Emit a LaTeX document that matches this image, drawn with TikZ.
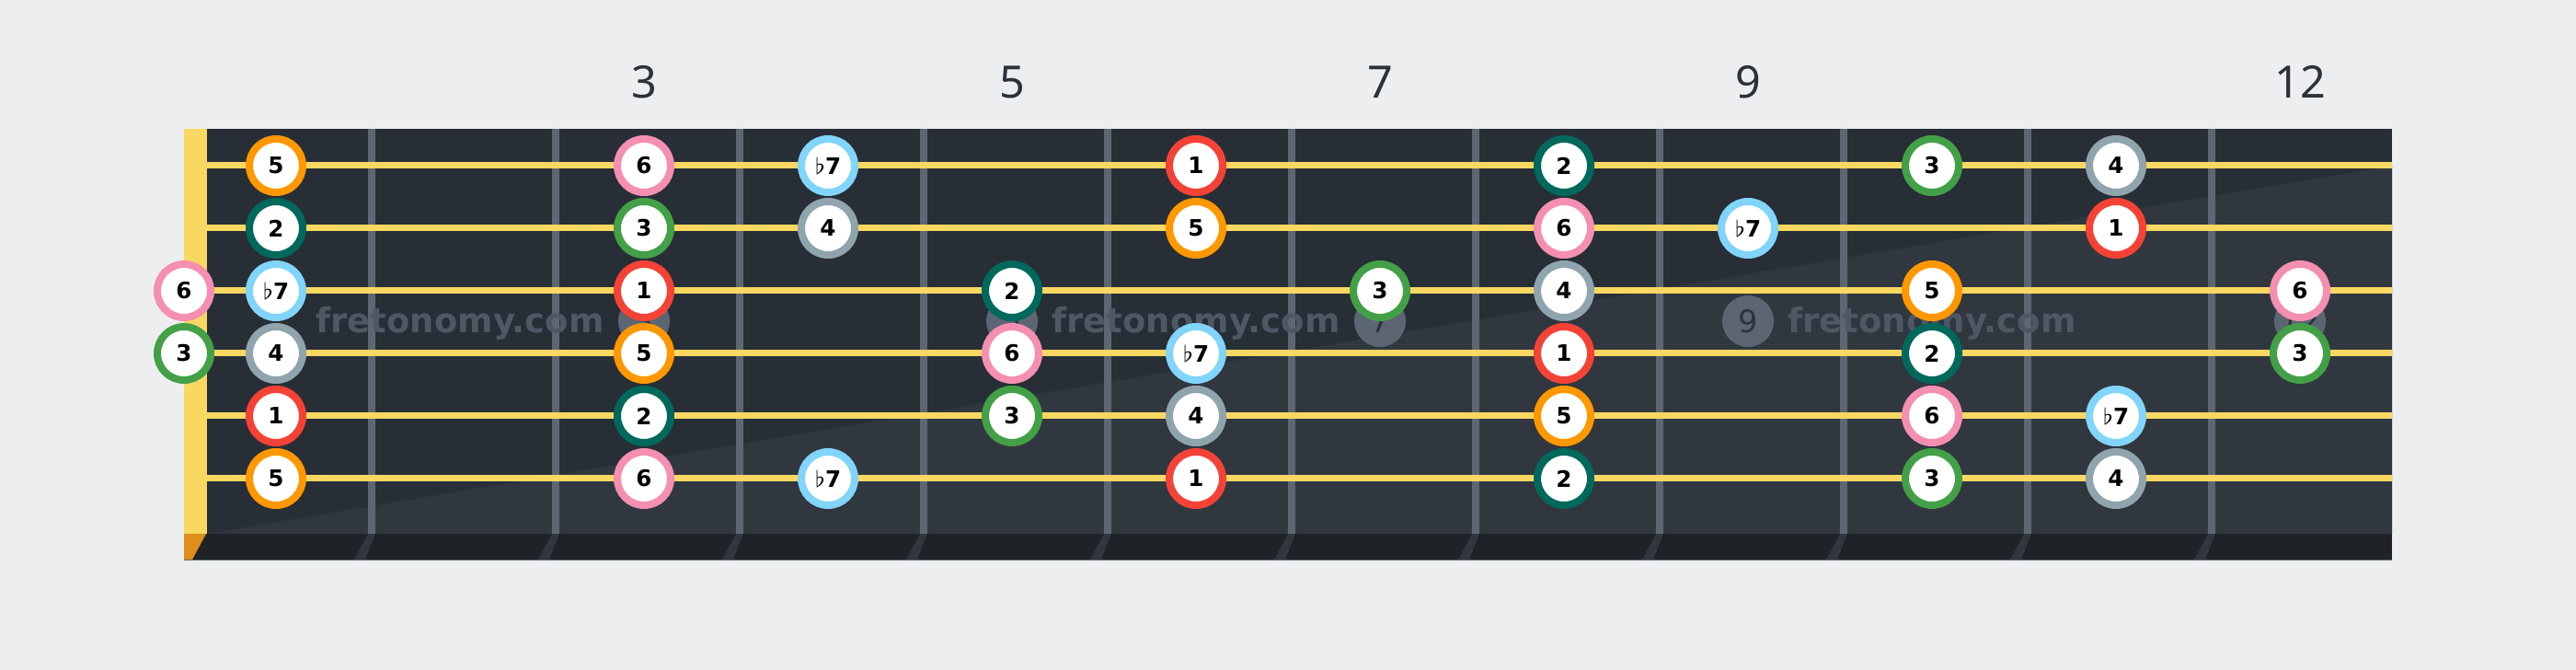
\documentclass[tikz,border=0pt]{standalone}
\usepackage{fontspec}
\setmainfont{DejaVu Sans}
\newfontfamily\fretfont{Noto Sans}
\usepackage{tikz}

\definecolor{bgcol}{HTML}{EDEEF0}
\definecolor{boardtop}{HTML}{282E36}
\definecolor{boardlow}{HTML}{31373F}
\definecolor{stripcol}{HTML}{1F2328}
\definecolor{fretcol}{HTML}{5C6773}
\definecolor{fretshade}{HTML}{2F363D}
\definecolor{nutcol}{HTML}{F9D862}
\definecolor{nutfoot}{HTML}{DD8E1B}
\definecolor{inlaycol}{HTML}{5B6672}
\definecolor{inlaytext}{HTML}{2C333A}
\definecolor{markcol}{HTML}{4E5864}
\definecolor{numcol}{HTML}{2B323A}

\definecolor{deg1}{HTML}{F44336}
\definecolor{deg2}{HTML}{00695C}
\definecolor{deg3}{HTML}{43A047}
\definecolor{deg4}{HTML}{90A4AE}
\definecolor{deg5}{HTML}{FF9800}
\definecolor{deg6}{HTML}{F48FB1}
\definecolor{deg7}{HTML}{81D4FA}

\begin{document}
\begin{tikzpicture}[x=1cm, y=-1cm,
    tone/.style={circle, draw=#1, fill=white, line width=0.08cm,
        minimum size=0.58cm, inner sep=0pt, text=black,
        font=\fontsize{7}{8}\selectfont\bfseries},
    inlay/.style={circle, fill=inlaycol, minimum size=0.56cm, inner sep=0pt,
        text=inlaytext, font=\fontsize{9.6}{10}\selectfont},
    fretnum/.style={text=numcol, font=\fretfont\fontsize{13.8}{14}\selectfont},
    watermark/.style={anchor=base west, inner sep=0pt, text=markcol,
        font=\fontsize{10.5}{11}\selectfont\bfseries},
    guitarstring/.style={draw=nutcol, line width=0.07cm}
]
            \fill[bgcol] (0, 0) rectangle (28, 7.28);

            \begin{scope}
                \fill[boardtop] (2.25, 1.40) rectangle (26, 5.80);
                \fill[boardlow] (2.25, 5.80) -- (26, 1.80) -- (26, 5.80) -- cycle;
                \fill[stripcol] (2, 5.80) rectangle (26, 6.08);
                \fill[fretcol] (2, 6.075) rectangle (26, 6.09);
                \fill[nutcol] (2, 1.40) rectangle (2.25, 5.80);
                \fill[nutfoot] (2, 5.80) -- (2.24, 5.80) -- (2.09, 6.08) -- (2, 6.08) -- cycle;

                \foreach \k in {1, ..., 11} {
                    \fill[fretcol] ({2 + 2*\k}, 1.40) rectangle ({2.08 + 2*\k}, 5.80);
                    \fill[fretshade] ({2 + 2*\k}, 5.80) -- ({2.08 + 2*\k}, 5.80)
                        -- ({1.97 + 2*\k}, 6.08) -- ({1.85 + 2*\k}, 6.08) -- cycle;
                }
            \end{scope}

            \foreach \f in {3, 5, 7, 9, 12} {
                \node[inlay] (dot\f) at ({1 + 2*\f}, 3.49) {\f};
                \node[fretnum] (num\f) at ({1 + 2*\f}, 0.89) {\f};
            }

            \foreach \i/\x in {1/3.43, 2/11.43, 3/19.43} {
                \node[watermark] (mark\i) at (\x, 3.62) {fretonomy.com};
            }

            \foreach \s in {1, ..., 6} {
                \draw[guitarstring] (2.25, {1.12 + 0.68*\s}) -- (26, {1.12 + 0.68*\s});
            }

            \foreach \s/\f/\d in {
                1/1/5, 1/3/6, 1/4/7, 1/6/1, 1/8/2, 1/10/3, 1/11/4,
                2/1/2, 2/3/3, 2/4/4, 2/6/5, 2/8/6, 2/9/7, 2/11/1,
                3/0/6, 3/1/7, 3/3/1, 3/5/2, 3/7/3, 3/8/4, 3/10/5, 3/12/6,
                4/0/3, 4/1/4, 4/3/5, 4/5/6, 4/6/7, 4/8/1, 4/10/2, 4/12/3,
                5/1/1, 5/3/2, 5/5/3, 5/6/4, 5/8/5, 5/10/6, 5/11/7,
                6/1/5, 6/3/6, 6/4/7, 6/6/1, 6/8/2, 6/10/3, 6/11/4} {
                \node[tone=deg\d] (n\s-\f) at ({max(2, 1 + 2*\f)}, {1.12 + 0.68*\s})
                    {\ifnum\d=7 $\flat$\fi\d};
            }
        \end{tikzpicture}
\end{document}
